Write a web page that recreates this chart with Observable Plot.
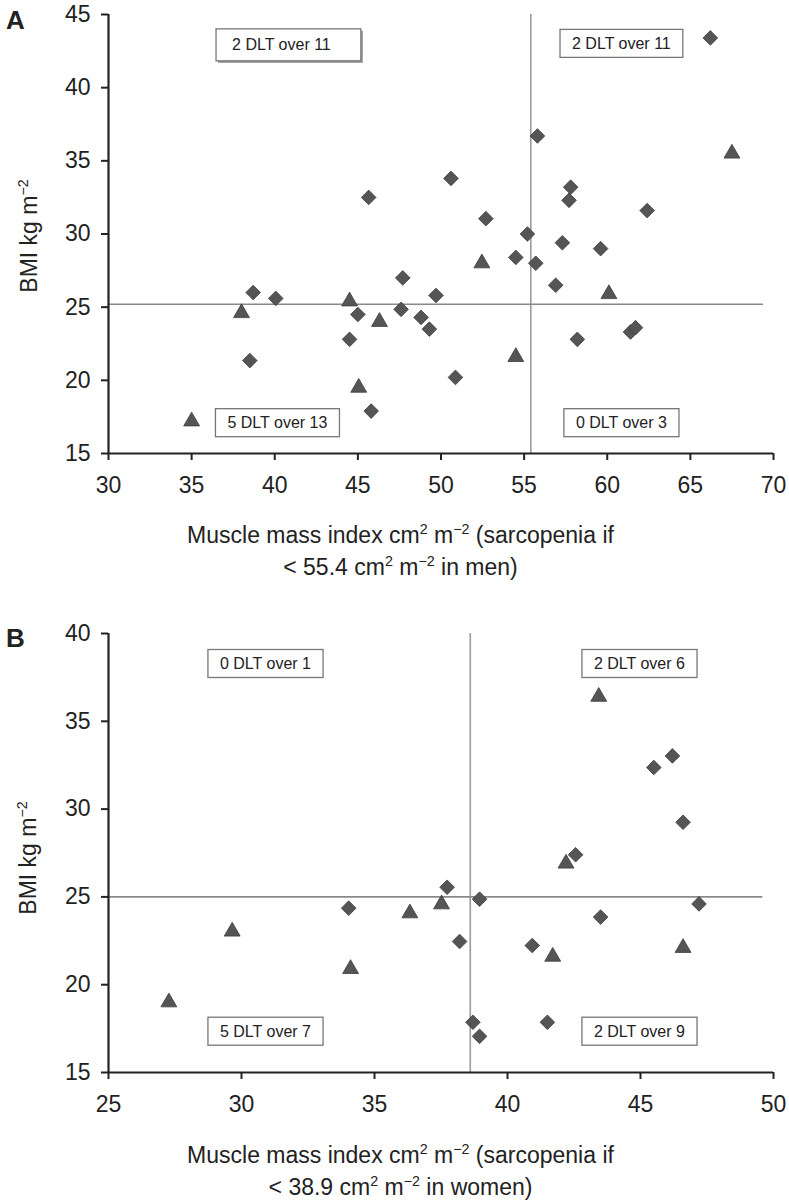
<!DOCTYPE html>
<html>
<head>
<meta charset="utf-8">
<script src="https://cdn.jsdelivr.net/npm/d3@7"></script>
<script src="https://cdn.jsdelivr.net/npm/@observablehq/plot@0.6"></script>
<style>
  html, body { margin: 0; padding: 0; background: #fff; }
  #wrap { position: relative; width: 789px; height: 1202px; overflow: hidden; font-family: "Liberation Sans", Arial, Helvetica, sans-serif; color: #222; }
  .panel { position: absolute; left: 0; z-index: 1; }
  .cap { position: absolute; left: 6px; width: 789px; text-align: center; font-size: 23px; line-height: 32px; z-index: 2; }
  .ytitle { position: absolute; font-size: 23px; white-space: nowrap; transform: translate(-50%, -50%) rotate(-90deg); z-index: 2; }
  .letter { position: absolute; font-size: 26px; font-weight: bold; line-height: 1; z-index: 3; }
  sup { font-size: 0.62em; vertical-align: 0; position: relative; top: -0.62em; line-height: 0; }
</style>
</head>
<body>
<div id="wrap">
  <div id="pa" class="panel" style="top:0px;"></div>
  <div id="pb" class="panel" style="top:590px;"></div>
  <div class="letter" style="left:6px; top:7px;">A</div>
  <div class="letter" style="left:6px; top:625px;">B</div>
  <div class="ytitle" style="left:29px; top:236px;">BMI kg m<sup>−2</sup></div>
  <div class="ytitle" style="left:28px; top:858px;">BMI kg m<sup>−2</sup></div>
  <div class="cap" style="top:519px;">Muscle mass index cm<sup>2</sup> m<sup>−2</sup> (sarcopenia if<br>&lt; 55.4 cm<sup>2</sup> m<sup>−2</sup> in men)</div>
  <div class="cap" style="top:1139px;">Muscle mass index cm<sup>2</sup> m<sup>−2</sup> (sarcopenia if<br>&lt; 38.9 cm<sup>2</sup> m<sup>−2</sup> in women)</div>
</div>
<script>
// ---------- Panel A (men) ----------
const menNoDLT = [ // diamonds: [muscle mass index, BMI]
  [38.7, 26.0], [40.06, 25.6], [38.5, 21.35], [45.0, 24.5], [44.5, 22.8], [45.8, 17.9],
  [47.7, 27.0], [47.6, 24.85], [49.7, 25.8], [48.8, 24.3], [49.3, 23.5], [50.87, 20.2],
  [50.6, 33.8], [45.65, 32.5], [52.7, 31.05], [54.5, 28.4], [55.2, 30.0], [55.7, 28.0],
  [55.8, 36.7], [56.9, 26.5], [57.3, 29.4], [57.7, 32.3], [57.8, 33.2], [58.2, 22.8],
  [59.6, 29.0], [61.4, 23.3], [61.7, 23.6], [62.4, 31.6], [66.2, 43.4]
];
const menDLT = [ // triangles
  [35.0, 17.2], [38.0, 24.6], [44.5, 25.4], [45.05, 19.5], [46.3, 24.0],
  [52.46, 28.0], [54.5, 21.6], [60.1, 25.9], [67.5, 35.5]
];
const menCutX = 55.4;
const menCutY = 25.2;
const menXTicks = [30, 35, 40, 45, 50, 55, 60, 65, 70];
const menYTicks = [15, 20, 25, 30, 35, 40, 45];
const menLabels = ["2 DLT over 11", "2 DLT over 11", "5 DLT over 13", "0 DLT over 3"];
const menLabelX = [40.4, 60.85, 40.16, 60.85];
const menLabelY = [42.9, 43.0, 17.08, 17.08];

// ---------- Panel B (women) ----------
const womenNoDLT = [
  [34.03, 24.36], [37.73, 25.55], [38.2, 22.46], [38.95, 24.87], [38.7, 17.86], [38.95, 17.06],
  [40.93, 22.23], [41.5, 17.86], [42.56, 27.4], [43.5, 23.85], [46.6, 29.25], [47.2, 24.6],
  [45.5, 32.37], [46.2, 33.03]
];
const womenDLT = [
  [27.27, 19.0], [29.65, 23.03], [34.1, 20.9], [36.33, 24.07], [37.52, 24.58],
  [41.7, 21.6], [42.2, 26.9], [46.6, 22.1], [43.43, 36.4]
];
const womenCutX = 38.6;
const womenCutY = 25.0;
const womenXTicks = [25, 30, 35, 40, 45, 50];
const womenYTicks = [15, 20, 25, 30, 35, 40];
const womenLabels = ["0 DLT over 1", "2 DLT over 6", "5 DLT over 7", "2 DLT over 9"];
const womenLabelX = [30.9, 44.96, 30.9, 44.96];
const womenLabelY = [38.27, 38.27, 17.33, 17.33];

function panel(opts) {
  const {noDLT, dlt, xDomain, yDomain, xTicks, yTicks, cutX, cutY, hEnd, labels, labelX, labelY, marginTop} = opts;
  const labelData = labels.map((t, i) => ({t, x: labelX[i], y: labelY[i]}));
  return Plot.plot({
    width: 789,
    height: marginTop + 439 + 47,
    marginLeft: 108, marginRight: 16, marginTop, marginBottom: 47,
    style: {fontFamily: '"Liberation Sans", Arial, Helvetica, sans-serif', fontSize: "23px", color: "#222", background: "white", overflow: "visible"},
    x: {domain: xDomain},
    y: {domain: yDomain},
    marks: [
      Plot.ruleX([cutX], {y1: yDomain[0], y2: yDomain[1], stroke: "#9a9a9a", strokeWidth: 1.6}),
      Plot.ruleY([cutY], {x1: xDomain[0], x2: hEnd, stroke: "#8a8a8a", strokeWidth: 1.6}),
      Plot.axisX({ticks: xTicks, tickSize: 7, tickPadding: 16, strokeWidth: 2, stroke: "#222", label: null, tickFormat: d => String(d)}),
      Plot.axisY({ticks: yTicks, tickSize: 7, tickPadding: 11, strokeWidth: 2, stroke: "#222", label: null, tickFormat: d => String(d)}),
      Plot.ruleY([yDomain[0]], {x1: xDomain[0], x2: xDomain[1], stroke: "#222", strokeWidth: 2.2}),
      Plot.ruleX([xDomain[0]], {y1: yDomain[0], y2: yDomain[1], stroke: "#222", strokeWidth: 2.2}),
      Plot.dot(noDLT, {x: d => d[0], y: d => d[1], symbol: "diamond2", r: 6.6, fill: "#555", stroke: "#3c3c3c", strokeWidth: 0.8}),
      Plot.dot(dlt, {x: d => d[0], y: d => d[1], symbol: "triangle", r: 5.9, fill: "#555", stroke: "#3c3c3c", strokeWidth: 0.8}),
      Plot.text(labelData, {x: "x", y: "y", text: "t", fontSize: 16, fill: "#222"})
    ]
  });
}

function addBoxes(svg, wideFirst) {
  const ns = "http://www.w3.org/2000/svg";
  const texts = Array.from(svg.querySelectorAll("text")).filter(t => /DLT over/.test(t.textContent));
  texts.forEach((t, i) => {
    const b = t.getBBox();
    let pl = 12, pr = 12, pt = 5.5, pb = 5.5;
    if (wideFirst && i === 0) { pl = 16; pr = 30; pt = 7.5; pb = 7.5; }
    const x = b.x - pl, y = b.y - pt, w = b.width + pl + pr, h = b.height + pt + pb;
    const par = t.parentNode;
    const tr = t.getAttribute("transform");
    const mk = () => { const r = document.createElementNS(ns, "rect"); if (tr) r.setAttribute("transform", tr); return r; };
    if (wideFirst && i === 0) {
      const sh = mk();
      sh.setAttribute("x", x + 2); sh.setAttribute("y", y + 2);
      sh.setAttribute("width", w); sh.setAttribute("height", h);
      sh.setAttribute("fill", "#999");
      par.insertBefore(sh, t);
    }
    const r = mk();
    r.setAttribute("x", x); r.setAttribute("y", y);
    r.setAttribute("width", w); r.setAttribute("height", h);
    r.setAttribute("fill", "white"); r.setAttribute("stroke", "#777"); r.setAttribute("stroke-width", 1.3);
    par.insertBefore(r, t);
  });
}

const svgA = panel({noDLT: menNoDLT, dlt: menDLT, xDomain: [30, 70], yDomain: [15, 45], xTicks: menXTicks, yTicks: menYTicks,
  cutX: menCutX, cutY: menCutY, hEnd: 69.4, labels: menLabels, labelX: menLabelX, labelY: menLabelY, marginTop: 14});
document.getElementById("pa").appendChild(svgA);
addBoxes(svgA, true);

const svgB = panel({noDLT: womenNoDLT, dlt: womenDLT, xDomain: [25, 50], yDomain: [15, 40], xTicks: womenXTicks, yTicks: womenYTicks,
  cutX: womenCutX, cutY: womenCutY, hEnd: 49.6, labels: womenLabels, labelX: womenLabelX, labelY: womenLabelY, marginTop: 43});
document.getElementById("pb").appendChild(svgB);
addBoxes(svgB, false);
</script>
</body>
</html>
